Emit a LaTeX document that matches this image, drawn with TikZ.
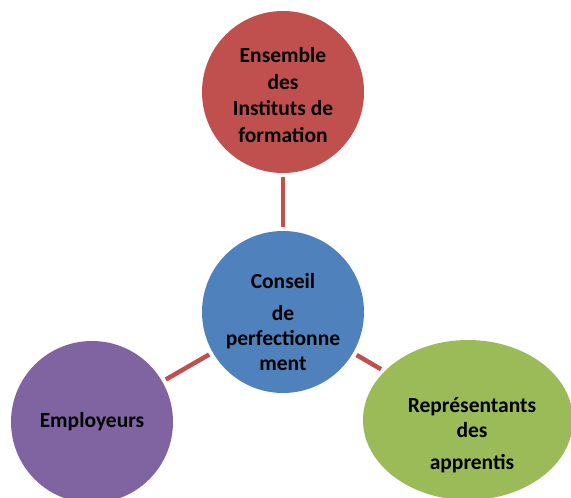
\documentclass[tikz,border=0pt]{standalone}
\usepackage{fontspec}
\setmainfont{Carlito}
\usepackage{tikz}
\usetikzlibrary{shapes.geometric}
\usetikzlibrary{calc}
\definecolor{rouge}{HTML}{C0504D}
\definecolor{bleu}{HTML}{4F81BD}
\definecolor{violet}{HTML}{8064A2}
\definecolor{vert}{HTML}{9BBB59}
\begin{document}
\begin{tikzpicture}[x=1pt,y=-1pt,
	bulle/.style={circle, minimum size=162pt, inner sep=0pt},
	texte/.style={align=center, font=\fontsize{21.5}{25}\selectfont\bfseries},
	lien/.style={draw=rouge, line width=4.5pt, shorten <=4pt, shorten >=4pt}]
\clip (0,0) rectangle (571,498);
\node[bulle, fill=bleu] (conseil) at (283,312) {};
\node[texte] (conseil-t) at ($(conseil)+(0,10)$) {Conseil\\[7pt]de\\perfectionne\\ment};
\node[bulle, fill=rouge] (instituts) at (283,92) {};
\node[texte, font=\fontsize{21.5}{26.5}\selectfont\bfseries] (instituts-t) at ($(instituts)+(0,3)$) {Ensemble\\des\\Instituts de\\formation};
\node[bulle, fill=violet, texte] (employeurs) at (92,422) {Employeurs};
\node[ellipse, fill=vert, minimum width=210pt, minimum height=160pt, inner sep=0pt] (apprentis) at (468,420) {};
\node[texte] (apprentis-t) at ($(apprentis)+(4,15)$) {Représentants\\des\\[7pt]apprentis};
\path[lien]
(conseil) edge (instituts)
(conseil) edge (employeurs)
(conseil) edge (apprentis);
\end{tikzpicture}
\end{document}
